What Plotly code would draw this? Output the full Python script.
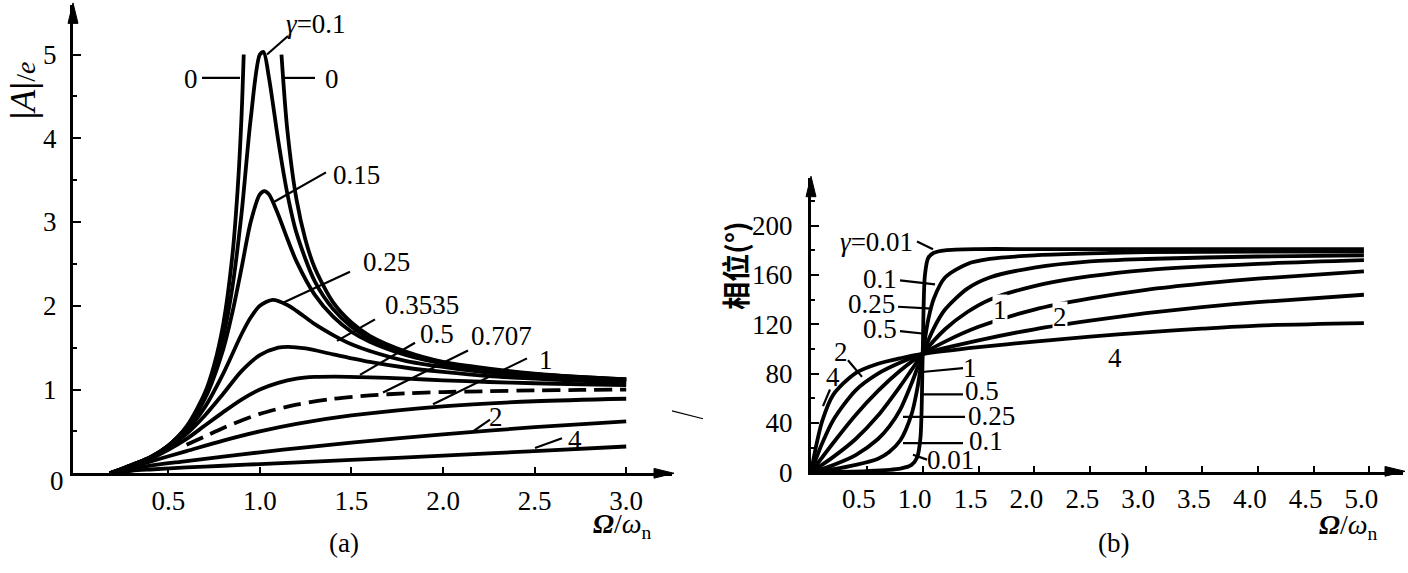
import plotly.graph_objects as go

W, H = 1408, 573
FONT = "Liberation Serif"

# ---------------- (a) amplitude |A|/e vs Omega/omega_n ----------------
a_g0_left_x = [0.18, 0.3, 0.4, 0.5, 0.6, 0.7, 0.75, 0.8, 0.85, 0.88, 0.9, 0.912]
a_g0_left_y = [0.0, 0.10, 0.19, 0.33, 0.56, 0.96, 1.29, 1.78, 2.60, 3.43, 4.26, 5.0]
a_g0_right_x = [1.118, 1.15, 1.2, 1.25, 1.3, 1.4, 1.5, 1.6, 1.8, 2.0, 2.25, 2.5, 2.75, 3.0]
a_g0_right_y = [5.0, 4.10, 3.27, 2.78, 2.45, 2.04, 1.80, 1.64, 1.45, 1.33, 1.25, 1.19, 1.15, 1.12]

a_g01_x = [0.18, 0.3, 0.4, 0.5, 0.6, 0.7, 0.8, 0.85, 0.9, 0.95, 1.0, 1.02, 1.05, 1.1, 1.15, 1.2, 1.3, 1.4, 1.5, 1.6, 1.8, 2.0, 2.25, 2.5, 2.75, 3.0]
a_g01_y = [0.0, 0.10, 0.19, 0.33, 0.55, 0.93, 1.63, 2.22, 3.10, 4.23, 5.0, 5.03, 4.72, 3.98, 3.34, 2.87, 2.29, 1.96, 1.75, 1.61, 1.43, 1.32, 1.24, 1.185, 1.15, 1.12]

a_g015_x = [0.18, 0.3, 0.4, 0.5, 0.6, 0.7, 0.8, 0.85, 0.9, 0.95, 1.0, 1.025, 1.05, 1.1, 1.15, 1.2, 1.3, 1.4, 1.5, 1.6, 1.8, 2.0, 2.25, 2.5, 2.75, 3.0]
a_g015_y = [0.0, 0.10, 0.19, 0.33, 0.54, 0.89, 1.48, 1.92, 2.45, 3.0, 3.33, 3.37, 3.33, 3.09, 2.80, 2.53, 2.13, 1.87, 1.69, 1.57, 1.41, 1.31, 1.23, 1.18, 1.14, 1.12]

a_g025_x = [0.18, 0.3, 0.4, 0.5, 0.6, 0.7, 0.8, 0.9, 0.95, 1.0, 1.07, 1.15, 1.2, 1.3, 1.4, 1.5, 1.6, 1.8, 2.0, 2.25, 2.5, 2.75, 3.0]
a_g025_y = [0.0, 0.09, 0.185, 0.32, 0.51, 0.79, 1.19, 1.66, 1.86, 2.0, 2.07, 2.01, 1.94, 1.78, 1.65, 1.54, 1.46, 1.34, 1.27, 1.20, 1.16, 1.13, 1.11]

a_g03535_x = [0.18, 0.3, 0.4, 0.5, 0.6, 0.7, 0.8, 0.9, 1.0, 1.1, 1.155, 1.25, 1.4, 1.6, 1.8, 2.0, 2.25, 2.5, 2.75, 3.0]
a_g03535_y = [0.0, 0.09, 0.18, 0.30, 0.47, 0.69, 0.95, 1.22, 1.41, 1.50, 1.51, 1.49, 1.42, 1.33, 1.26, 1.21, 1.16, 1.13, 1.105, 1.09]

a_g05_x = [0.18, 0.3, 0.4, 0.5, 0.6, 0.7, 0.8, 0.9, 1.0, 1.1, 1.2, 1.3, 1.414, 1.6, 1.8, 2.0, 2.25, 2.5, 2.75, 3.0]
a_g05_y = [0.0, 0.09, 0.17, 0.28, 0.41, 0.57, 0.73, 0.88, 1.0, 1.08, 1.13, 1.15, 1.155, 1.146, 1.13, 1.11, 1.09, 1.075, 1.063, 1.053]

a_g0707_x = [0.6, 0.7, 0.8, 0.9, 1.0, 1.2, 1.4, 1.6, 1.8, 2.0, 2.25, 2.5, 2.75, 3.0]
a_g0707_y = [0.34, 0.44, 0.54, 0.63, 0.71, 0.82, 0.89, 0.93, 0.955, 0.97, 0.98, 0.99, 0.995, 1.0]

a_g1_x = [0.18, 0.3, 0.4, 0.6, 0.8, 1.0, 1.2, 1.5, 2.0, 2.5, 3.0]
a_g1_y = [0.0, 0.08, 0.14, 0.265, 0.39, 0.50, 0.59, 0.69, 0.80, 0.86, 0.89]

a_g2_x = [0.18, 0.3, 0.4, 0.6, 0.8, 1.0, 1.25, 1.5, 2.0, 2.5, 3.0]
a_g2_y = [0.0, 0.05, 0.09, 0.145, 0.20, 0.25, 0.31, 0.365, 0.465, 0.55, 0.62]

a_g4_x = [0.18, 0.3, 0.4, 0.6, 0.8, 1.0, 1.5, 2.0, 2.5, 3.0]
a_g4_y = [0.0, 0.03, 0.045, 0.07, 0.09, 0.11, 0.16, 0.21, 0.265, 0.32]

a_xticks = [0.5, 1.0, 1.5, 2.0, 2.5, 3.0]
a_xticklabels = ["0.5", "1.0", "1.5", "2.0", "2.5", "3.0"]
a_yticks = [1, 2, 3, 4, 5]
a_yticklabels = ["1", "2", "3", "4", "5"]

# ---------------- (b) phase vs Omega/omega_n ----------------
b_g001_x = [0, 0.5, 0.8, 0.9, 0.95, 0.98, 1.0, 1.02, 1.05, 1.1, 1.2, 1.5, 2.0, 3.0, 4.0, 4.95]
b_g001_y = [0, 1, 3, 6, 12, 28, 96, 160, 174, 178, 180, 181, 181, 181, 181, 181]

b_g01_x = [0, 0.2, 0.4, 0.6, 0.7, 0.8, 0.9, 0.95, 1.0, 1.05, 1.1, 1.2, 1.4, 1.6, 2.0, 2.5, 3.0, 4.0, 4.95]
b_g01_y = [0, 2.5, 6, 11, 16.5, 26, 47, 67, 96, 124, 141, 158, 169, 173, 176, 177.5, 178.5, 179, 179]

b_g025_x = [0, 0.2, 0.4, 0.6, 0.7, 0.8, 0.9, 1.0, 1.1, 1.2, 1.4, 1.6, 2.0, 2.5, 3.0, 4.0, 4.95]
b_g025_y = [0, 6, 14, 27, 37, 51, 72, 96, 117, 132, 149, 158, 166, 171, 173, 175, 176]

b_g05_x = [0, 0.2, 0.4, 0.6, 0.8, 0.9, 1.0, 1.2, 1.4, 1.6, 2.0, 2.5, 3.0, 4.0, 4.95]
b_g05_y = [0, 12.5, 27, 46, 70, 83, 96, 116, 130, 140, 151, 159, 164, 169, 172]

b_g1_x = [0, 0.2, 0.4, 0.6, 0.8, 1.0, 1.2, 1.5, 2.0, 2.5, 3.0, 3.5, 4.0, 4.95]
b_g1_y = [0, 24, 46.5, 66, 82.5, 96, 106, 118, 132, 141, 148, 153, 157, 163]

b_g2_x = [0, 0.1, 0.2, 0.4, 0.6, 0.8, 1.0, 1.5, 2.0, 2.5, 3.0, 3.5, 4.0, 4.95]
b_g2_y = [0, 23.5, 42.5, 66.5, 80, 89, 96, 107, 116, 123, 129, 134, 138, 144]

b_g4_x = [0, 0.05, 0.1, 0.2, 0.4, 0.6, 0.8, 1.0, 1.5, 2.0, 2.5, 3.0, 3.5, 4.0, 4.95]
b_g4_y = [0, 23, 41.5, 63, 80.5, 88, 92.5, 96, 101.5, 106, 110, 113.5, 116.5, 119, 121]

b_xticks = [0.5, 1.0, 1.5, 2.0, 2.5, 3.0, 3.5, 4.0, 4.5, 5.0]
b_xticklabels = ["0.5", "1.0", "1.5", "2.0", "2.5", "3.0", "3.5", "4.0", "4.5", "5.0"]
b_yticks = [0, 40, 80, 120, 160, 200]
b_yticklabels = ["0", "40", "80", "120", "160", "200"]

LW = 3.8

fig = go.Figure()

def add(x, y, ax, dash="solid"):
    fig.add_trace(go.Scatter(
        x=x, y=y, mode="lines", xaxis=ax[0], yaxis=ax[1],
        line=dict(color="black", width=LW, shape="spline", smoothing=0.8, dash=dash),
        showlegend=False, hoverinfo="skip"))

A = ("x", "y")
B = ("x2", "y2")
for xs, ys in [(a_g0_left_x, a_g0_left_y), (a_g0_right_x, a_g0_right_y),
               (a_g01_x, a_g01_y), (a_g015_x, a_g015_y), (a_g025_x, a_g025_y),
               (a_g03535_x, a_g03535_y), (a_g05_x, a_g05_y),
               (a_g1_x, a_g1_y), (a_g2_x, a_g2_y), (a_g4_x, a_g4_y)]:
    add(xs, ys, A)
add(a_g0707_x, a_g0707_y, A, dash="18px,8px")

for xs, ys in [(b_g001_x, b_g001_y), (b_g01_x, b_g01_y), (b_g025_x, b_g025_y),
               (b_g05_x, b_g05_y), (b_g1_x, b_g1_y), (b_g2_x, b_g2_y), (b_g4_x, b_g4_y)]:
    add(xs, ys, B)

def px2paper(px, py):
    return px / W, 1 - py / H

annotations = []
shapes = []

def label(px, py, text, size=27, bg=None, angle=0, family=FONT):
    x, y = px2paper(px, py)
    d = dict(x=x, y=y, xref="paper", yref="paper", text=text, showarrow=False,
             xanchor="center", yanchor="middle", textangle=angle,
             font=dict(family=family, size=size, color="black"))
    if bg:
        d["bgcolor"] = bg
        d["borderpad"] = 0
    annotations.append(d)

def leader(p1, p2, width=2.2):
    x0, y0 = px2paper(*p1)
    x1, y1 = px2paper(*p2)
    shapes.append(dict(type="line", xref="paper", yref="paper", x0=x0, y0=y0, x1=x1, y1=y1,
                       line=dict(color="black", width=width)))

def triangle(p1, p2, p3):
    pts = [px2paper(*p) for p in (p1, p2, p3)]
    path = "M {} {} L {} {} L {} {} Z".format(pts[0][0], pts[0][1], pts[1][0], pts[1][1],
                                               pts[2][0], pts[2][1])
    shapes.append(dict(type="path", xref="paper", yref="paper", path=path,
                       fillcolor="black", line=dict(color="black", width=1)))

# (a) curve labels
label(191, 81, "0"); leader((202, 80), (240, 80))
label(332, 81, "0"); leader((283, 80), (315, 80))
label(316, 25, "<i>γ</i>=0.1"); leader((267, 56), (288, 37))
label(356, 180, "0.15"); leader((273, 208), (326, 177))
label(386, 269, "0.25"); leader((283, 311), (350, 279))
label(422, 313, "0.3535"); leader((337, 350), (375, 328))
label(437, 343, "0.5"); leader((360, 385), (415, 352))
label(502, 345, "0.707"); leader((383, 403), (468, 360))
label(546, 370, "1"); leader((433, 415), (527, 368))
label(496, 428, "2"); leader((473, 443), (490, 431))
label(575, 452, "4"); leader((535, 460), (562, 450))

# (b) curve labels
label(876, 248, "<i>γ</i>=0.01"); leader((917, 248), (933, 256))
label(880, 286, "0.1"); leader((900, 288), (935, 292))
label(871, 312, "0.25"); leader((898, 315), (932, 317))
label(880, 338, "0.5"); leader((900, 340), (927, 343))
label(1000, 318, "1", bg="white")
label(1060, 326, "2", bg="white")
label(1115, 368, "4")
label(841, 361, "2"); leader((848, 370), (862, 387))
label(833, 387, "4"); leader((830, 400), (823, 417))
label(970, 378, "1"); leader((922, 382), (963, 378))
label(982, 402, "0.5"); leader((922, 405), (963, 405))
label(991, 427, "0.25"); leader((903, 428), (965, 428))
label(986, 453, "0.1"); leader((903, 455), (963, 455))
label(950, 472, "0.01"); leader((913, 467), (927, 472))

# axis titles and captions
label(23, 93, "<b>|</b><i>A</i><b>|</b><span style='font-size:28px'>/<i>e</i></span>",
      size=36, angle=-90)
label(735, 273, "<b>相位(°)</b>", size=28, angle=-90, family="Noto Sans CJK SC")
label(622, 540, "<b><i>Ω</i></b>/<i>ω</i><sub>n</sub>", size=28)
label(1348, 541, "<b><i>Ω</i></b>/<i>ω</i><sub>n</sub>", size=28)
label(344, 558, "(a)", size=27)
label(1113, 558, "(b)", size=27)
label(57, 494, "0", size=27)

# axis arrowheads (decorations)
triangle((674, 486), (654, 481), (654, 491))
triangle((73, 3), (68, 24), (78, 24))
triangle((1405, 484), (1385, 479), (1385, 489))
triangle((811, 181), (806, 202), (816, 202))

# scan artifact
leader((672, 422), (703, 430), width=1.2)

tickfont = dict(family=FONT, size=27, color="black")

fig.update_layout(
    width=W, height=H, margin=dict(l=0, r=0, t=0, b=0),
    paper_bgcolor="white", plot_bgcolor="white",
    annotations=annotations, shapes=shapes,
    xaxis=dict(domain=[73 / W, 672 / W], range=[-0.02, 3.25], showgrid=False, zeroline=False,
               showline=True, linecolor="black", linewidth=3, ticks="inside", ticklen=6,
               tickwidth=2, tickcolor="black", tickvals=a_xticks, ticktext=a_xticklabels,
               tickfont=tickfont, anchor="y", ticklabelstandoff=1),
    yaxis=dict(domain=[(H - 486) / H, (H - 5) / H], range=[0, 5.593], showgrid=False,
               zeroline=False, showline=True, linecolor="black", linewidth=3,
               ticks="inside", ticklen=8, tickwidth=2, tickcolor="black",
               tickvals=a_yticks, ticktext=a_yticklabels, tickfont=tickfont, anchor="x",
               ticklabelstandoff=8,
               minor=dict(tickvals=[0.5, 1.5, 2.5, 3.5, 4.5], ticks="inside", ticklen=4,
                          tickwidth=2, tickcolor="black")),
    xaxis2=dict(domain=[811 / W, 1403 / W], range=[0, 5.3], showgrid=False, zeroline=False,
                showline=True, linecolor="black", linewidth=3, ticks="inside", ticklen=6,
                tickwidth=2, tickcolor="black", tickvals=b_xticks, ticktext=b_xticklabels,
                tickfont=tickfont, anchor="y2", ticklabelstandoff=0, ticklabelshift=-8),
    yaxis2=dict(domain=[(H - 485) / H, (H - 183) / H], range=[0, 238.5], showgrid=False,
                zeroline=False, showline=True, linecolor="black", linewidth=3,
                ticks="inside", ticklen=8, tickwidth=2, tickcolor="black",
                tickvals=b_yticks, ticktext=b_yticklabels, tickfont=tickfont, anchor="x2",
                ticklabelstandoff=10,
                minor=dict(tickvals=[20, 60, 100, 140, 180, 220], ticks="inside", ticklen=4,
                           tickwidth=2, tickcolor="black")),
)

fig.write_html("out.html")
